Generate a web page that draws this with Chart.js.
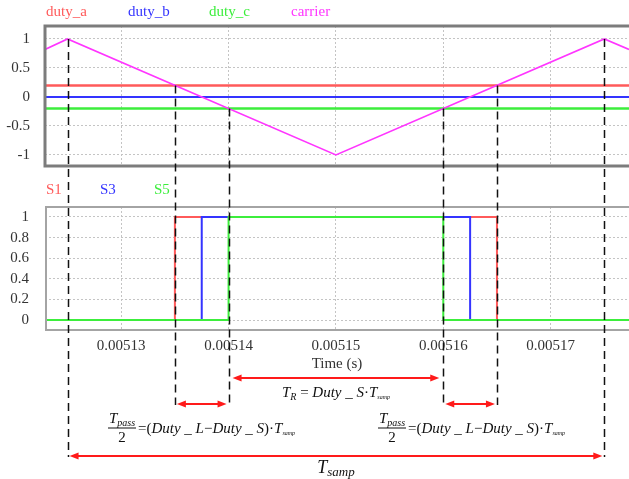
<!DOCTYPE html>
<html>
<head>
<meta charset="utf-8">
<script src="https://cdn.jsdelivr.net/npm/chart.js@4.4.1/dist/chart.umd.min.js"></script>
<style>
  html, body { margin: 0; padding: 0; background: #fff; }
  #wrap { position: relative; width: 629px; height: 479px; overflow: hidden; }
  #wrap canvas { position: absolute; left: 0; top: 0; }
</style>
</head>
<body>
<div id="wrap">
  <canvas id="pwmTop" width="629" height="479"></canvas>
  <canvas id="pwmBottom" width="629" height="479"></canvas>
</div>
<script>
// time window shown on both plots (s)
const tStart = 0.0051229;
const tEnd = 0.0051773;
const timeTicks = [0.00513, 0.00514, 0.00515, 0.00516, 0.00517];
const timeTickLabels = ['0.00513', '0.00514', '0.00515', '0.00516', '0.00517'];

// upper plot: duty references and the triangular carrier
const topTicks = [-1, -0.5, 0, 0.5, 1];
const topTickLabels = ['-1', '-0.5', '0', '0.5', '1'];
const dutyNames = ['duty_a', 'duty_b', 'duty_c', 'carrier'];
const dutyTime = [tStart, tEnd];
const dutyA = [0.2, 0.2];
const dutyB = [0, 0];
const dutyC = [-0.2, -0.2];
const carrierTime = [0.0051229, 0.005125, 0.00515, 0.005175, 0.0051773];
const carrierVal = [0.82, 1, -1, 1, 0.82];

// lower plot: gate signals
const gateTicks = [0, 0.2, 0.4, 0.6, 0.8, 1];
const gateTickLabels = ['0', '0.2', '0.4', '0.6', '0.8', '1'];
const gateNames = ['S1', 'S3', 'S5'];
const s1Time = [tStart, 0.005135, 0.005165, tEnd];
const s1Val = [0, 1, 0, 0];
const s3Time = [tStart, 0.0051375, 0.0051625, tEnd];
const s3Val = [0, 1, 0, 0];
const s5Time = [tStart, 0.00514, 0.00516, tEnd];
const s5Val = [0, 1, 0, 0];

// switching instants marked with dashed guides (time, level on the upper plot)
const markTime = [0.005125, 0.005135, 0.00514, 0.00516, 0.005165, 0.005175];
const markLevel = [1, 0.2, -0.2, -0.2, 0.2, 1];

const RED = '#ff5a5a';
const BLUE = '#3434ff';
const GREEN = '#3cee3c';
const MAGENTA = '#ff35ff';
const serif = "'Liberation Serif', 'Times New Roman', serif";

const pts = (xs, ys) => xs.map((x, i) => ({ x, y: ys[i] }));

function timeAxis(showLabels) {
  return {
    type: 'linear',
    min: tStart,
    max: tEnd,
    afterBuildTicks: s => { s.ticks = timeTicks.map(v => ({ value: v })); },
    grid: { color: '#c4c4c4', drawTicks: false },
    border: { display: false, dash: [2, 2] },
    ticks: {
      display: showLabels,
      autoSkip: false,
      maxRotation: 0,
      padding: 7,
      color: '#333',
      font: { family: serif, size: 15 },
      callback: (v, i) => timeTickLabels[i]
    }
  };
}

function levelAxis(min, max, ticks, labels, pad) {
  return {
    min, max,
    afterBuildTicks: s => { s.ticks = ticks.map(v => ({ value: v })); },
    afterFit: s => { s.width = 45; },
    grid: { color: '#c4c4c4', drawTicks: false },
    border: { display: false, dash: [2, 2] },
    ticks: {
      padding: pad,
      color: '#333',
      font: { family: serif, size: 15 },
      callback: (v, i) => labels[i]
    }
  };
}

// open frame (left, top, bottom) like the simulator plots
function framePlugin(color, width, leftX) {
  return {
    id: 'frame',
    afterDatasetsDraw(chart) {
      const { ctx, chartArea: a } = chart;
      ctx.save();
      ctx.strokeStyle = color;
      ctx.lineWidth = width;
      ctx.beginPath();
      ctx.moveTo(chart.width, a.top);
      ctx.lineTo(leftX, a.top);
      ctx.lineTo(leftX, a.bottom);
      ctx.lineTo(chart.width, a.bottom);
      ctx.stroke();
      ctx.restore();
    }
  };
}

function namesPlugin(names, colors, xs, y) {
  return {
    id: 'names',
    afterDraw(chart) {
      const ctx = chart.ctx;
      ctx.save();
      ctx.font = '15px ' + serif;
      ctx.textBaseline = 'middle';
      names.forEach((n, i) => {
        ctx.fillStyle = colors[i];
        ctx.fillText(n, xs[i], y);
      });
      ctx.restore();
    }
  };
}

const topChart = new Chart(document.getElementById('pwmTop'), {
  type: 'line',
  data: {
    datasets: [
      { label: dutyNames[0], data: pts(dutyTime, dutyA), borderColor: RED, borderWidth: 2.5, order: 3 },
      { label: dutyNames[1], data: pts(dutyTime, dutyB), borderColor: BLUE, borderWidth: 2, order: 2 },
      { label: dutyNames[2], data: pts(dutyTime, dutyC), borderColor: GREEN, borderWidth: 2.5, order: 1 },
      { label: dutyNames[3], data: pts(carrierTime, carrierVal), borderColor: MAGENTA, borderWidth: 1.6, order: 0 }
    ]
  },
  options: {
    responsive: false,
    animation: false,
    layout: { padding: { top: 26, bottom: 313, left: 0, right: 0 } },
    elements: { point: { radius: 0 }, line: { tension: 0 } },
    plugins: { legend: { display: false }, tooltip: { enabled: false } },
    scales: {
      x: Object.assign(timeAxis(false), { afterFit: s => { s.height = 0; } }),
      y: levelAxis(-1.19, 1.224, topTicks, topTickLabels, 15)
    }
  },
  plugins: [
    framePlugin('#7c7c7c', 3, 45),
    namesPlugin(dutyNames, [RED, BLUE, GREEN, MAGENTA], [46, 128, 209, 291], 12)
  ]
});

function arrow(ctx, x1, x2, y) {
  ctx.beginPath();
  ctx.moveTo(x1 + 5, y);
  ctx.lineTo(x2 - 5, y);
  ctx.stroke();
  [[x1, 1], [x2, -1]].forEach(([x, d]) => {
    ctx.beginPath();
    ctx.moveTo(x, y);
    ctx.lineTo(x + 9 * d, y - 3.5);
    ctx.lineTo(x + 9 * d, y + 3.5);
    ctx.closePath();
    ctx.fill();
  });
}

// parts: [text, size, italic, dy]
function textRuns(ctx, parts, x, y, center) {
  const fontOf = p => (p[2] ? 'italic ' : '') + p[1] + 'px ' + serif;
  let w = 0;
  parts.forEach(p => { ctx.font = fontOf(p); w += ctx.measureText(p[0]).width; });
  let cx = center ? x - w / 2 : x;
  parts.forEach(p => {
    ctx.font = fontOf(p);
    ctx.fillText(p[0], cx, y + (p[3] || 0));
    cx += ctx.measureText(p[0]).width;
  });
  return w;
}

function passFormula(ctx, x) {
  // fraction T_pass / 2
  textRuns(ctx, [['T', 15, true], ['pass', 10, true, 3]], x + 1, 423, false);
  ctx.fillRect(x, 427.5, 28, 1);
  textRuns(ctx, [['2', 15, false]], x + 14, 442, true);
  textRuns(ctx, [
    ['=(', 15, false], ['Duty _ L', 15, true], ['\u2212', 15, false],
    ['Duty _ S', 15, true], [')\u00b7', 15, false], ['T', 15, true], ['samp', 6, true, 2]
  ], x + 30, 433, false);
}

const annotations = {
  id: 'annotations',
  afterDraw(chart) {
    const ctx = chart.ctx;
    const xs = chart.scales.x;
    const yTop = topChart.scales.y;
    const px = t => xs.getPixelForValue(t);
    ctx.save();

    // dashed guides from the crossings down to the time spans
    ctx.strokeStyle = '#111';
    ctx.lineWidth = 1.5;
    ctx.setLineDash([8, 5]);
    markTime.forEach((t, i) => {
      const outer = i === 0 || i === markTime.length - 1;
      const x = Math.round(px(t)) + 0.5;
      ctx.beginPath();
      ctx.moveTo(x, yTop.getPixelForValue(markLevel[i]));
      ctx.lineTo(x, outer ? 457 : 405);
      ctx.stroke();
    });
    ctx.setLineDash([]);

    // red span arrows
    ctx.strokeStyle = '#ff1a1a';
    ctx.fillStyle = '#ff1a1a';
    ctx.lineWidth = 1.8;
    arrow(ctx, px(markTime[2]) + 4, px(markTime[3]) - 4, 378);
    arrow(ctx, px(markTime[1]) + 2, px(markTime[2]) - 2, 404);
    arrow(ctx, px(markTime[3]) + 2, px(markTime[4]) - 2, 404);
    arrow(ctx, px(markTime[0]) + 2, px(markTime[5]) - 2, 456);

    // formulas
    ctx.fillStyle = '#111';
    ctx.textBaseline = 'alphabetic';
    textRuns(ctx, [
      ['T', 15, true], ['R', 10, true, 3], [' = ', 15, false], ['Duty _ S', 15, true],
      ['\u00b7', 15, false], ['T', 15, true], ['samp', 6, true, 2]
    ], 336, 397, true);
    passFormula(ctx, 108);
    passFormula(ctx, 378);
    textRuns(ctx, [['T', 18, true], ['samp', 13, true, 3]], 336, 473, true);
    ctx.restore();
  }
};

new Chart(document.getElementById('pwmBottom'), {
  type: 'line',
  data: {
    datasets: [
      { label: gateNames[0], data: pts(s1Time, s1Val), borderColor: RED, borderWidth: 2, stepped: true, order: 2 },
      { label: gateNames[1], data: pts(s3Time, s3Val), borderColor: BLUE, borderWidth: 2, stepped: true, order: 1 },
      { label: gateNames[2], data: pts(s5Time, s5Val), borderColor: GREEN, borderWidth: 2, stepped: true, order: 0 }
    ]
  },
  options: {
    responsive: false,
    animation: false,
    layout: { padding: { top: 207, bottom: 104, left: 0, right: 0 } },
    elements: { point: { radius: 0 }, line: { tension: 0 } },
    plugins: { legend: { display: false }, tooltip: { enabled: false } },
    scales: {
      x: Object.assign(timeAxis(true), {
        afterFit: s => { s.height = 45; },
        title: {
          display: true,
          text: 'Time (s)',
          color: '#333',
          font: { family: serif, size: 15 },
          padding: { top: 0, bottom: 2 }
        }
      }),
      y: levelAxis(-0.097, 1.097, gateTicks, gateTickLabels, 16)
    }
  },
  plugins: [
    framePlugin('#a4a4a4', 2, 46),
    namesPlugin(gateNames, [RED, BLUE, GREEN], [46, 100, 154], 190),
    annotations
  ]
});
</script>
</body>
</html>
